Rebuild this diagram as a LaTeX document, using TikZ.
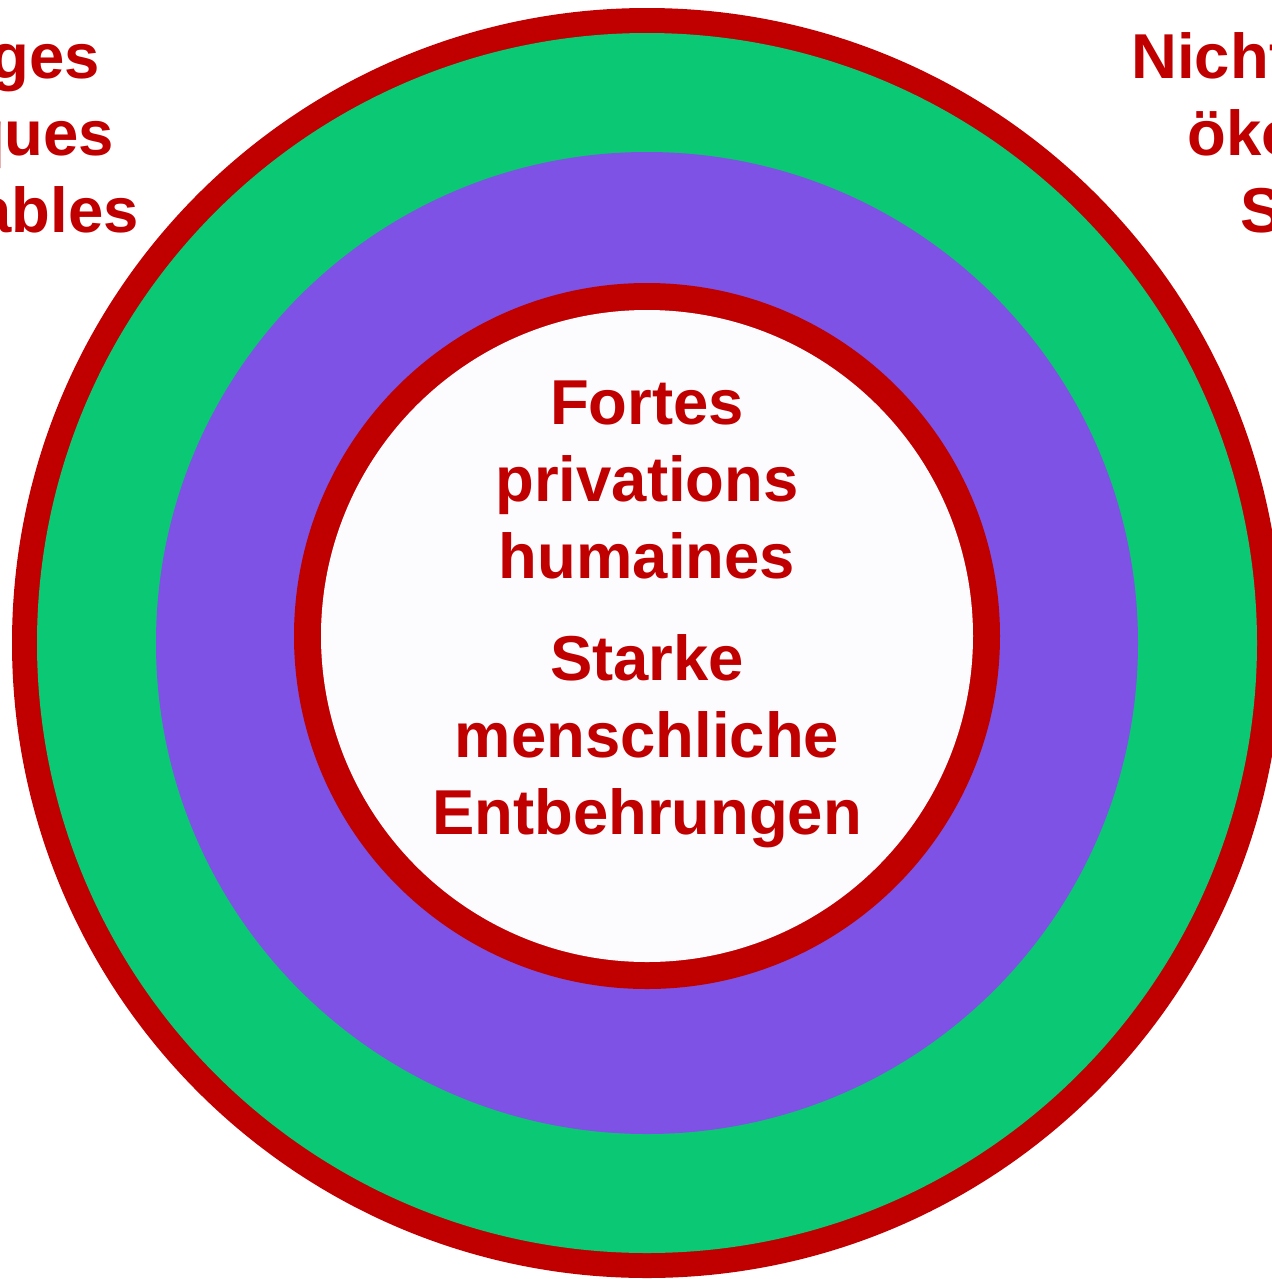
\documentclass[tikz,border=0pt]{standalone}
\usepackage{fontspec}
\setmainfont{Liberation Sans}
\definecolor{ringred}{HTML}{C00000}
\definecolor{ringgreen}{HTML}{0AC874}
\definecolor{ringpurple}{HTML}{7D52E4}
\definecolor{innerwhite}{HTML}{FCFCFF}
\begin{document}
\begin{tikzpicture}[x=0.02cm, y=-0.02cm,
  word/.style={text=ringred, font=\fontsize{36.1}{43.6}\selectfont\bfseries, align=center, inner sep=0pt, anchor=base}]
\useasboundingbox (0,0) rectangle (1272,1279);
\clip (0,0) rectangle (1272,1279);
% outer rings
\fill[ringred] (647,643) circle (635);
\fill[ringgreen] (647,643) circle (610);
\fill[ringpurple] (647,643) circle (491);
% inner disc
\fill[ringred] (647,636) circle (353);
\fill[innerwhite] (647,636) circle (326);
% texts
\node[word] (fr) at (647,578) {Fortes\\privations\\humaines};
\node[word] (de) at (647,834) {Starke\\menschliche\\Entbehrungen};
\node[word] (left) at (-71,232) {Dommages\\écologiques\\inacceptables};
\node[word] (right) at (1373,232) {Nichtakzeptable\\ökologische\\Schäden};
\end{tikzpicture}
\end{document}
